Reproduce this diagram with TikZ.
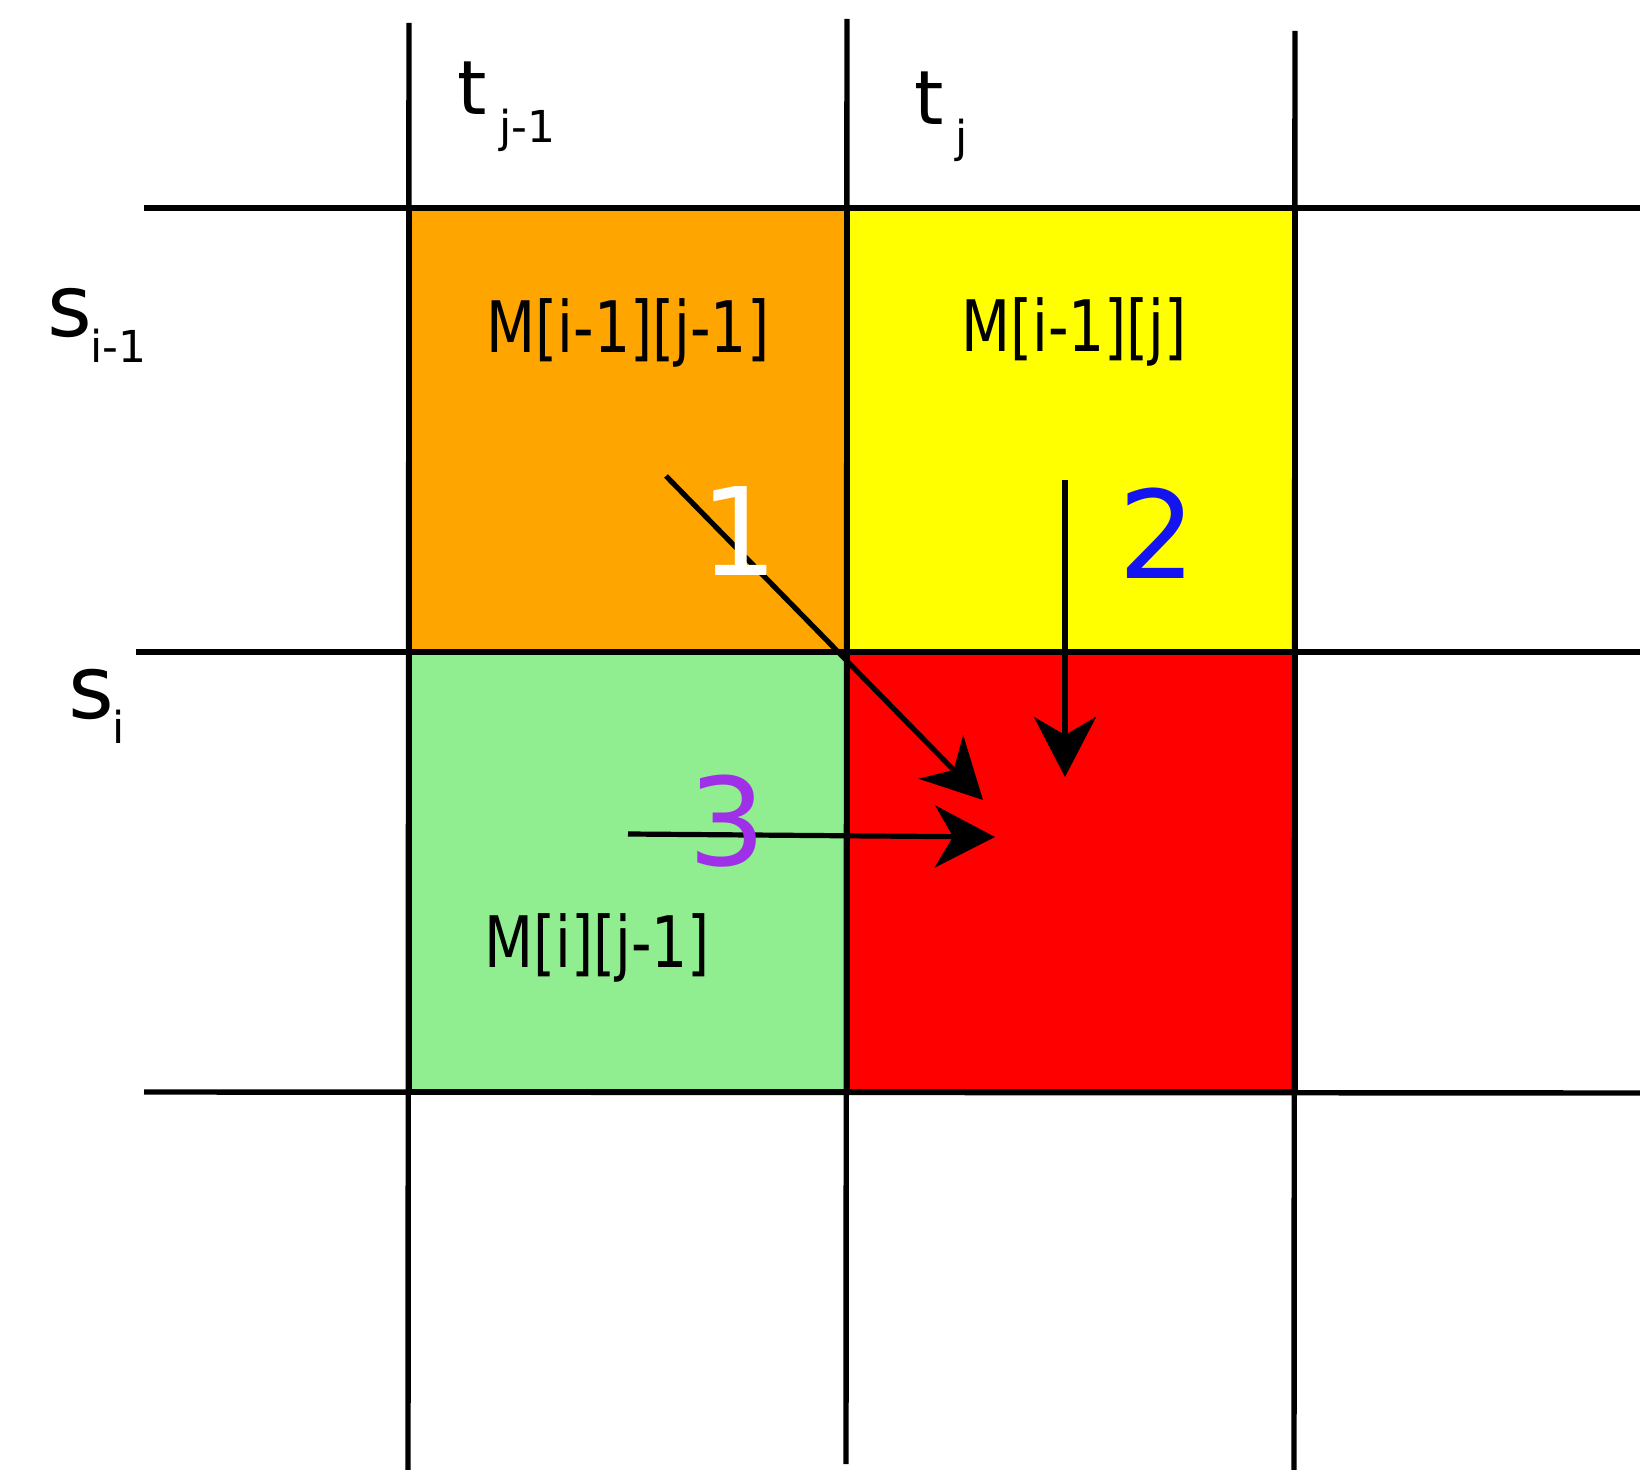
\documentclass[tikz,border=0pt]{standalone}
\usepackage{fontspec}
\usepackage{graphicx}
\setmainfont{DejaVu Sans}
\usetikzlibrary{arrows.meta}
\definecolor{cOrange}{HTML}{FFA500}
\definecolor{cYellow}{HTML}{FFFF00}
\definecolor{cGreen}{HTML}{90EE90}
\definecolor{cRed}{HTML}{FF0000}
\definecolor{cBlue}{HTML}{1414F0}
\definecolor{cPurple}{HTML}{A030E8}
\begin{document}
\begin{tikzpicture}[x=0.5pt,y=-0.5pt,
  gridline/.style={line width=2.7pt},
  cellbox/.style={draw=black, line width=3.2pt},
  celltext/.style={anchor=base, inner sep=0pt, font=\fontsize{35.5pt}{36pt}\selectfont},
  mainlbl/.style={anchor=base west, inner sep=0pt},
  sublbl/.style={anchor=base west, inner sep=0pt, font=\fontsize{22pt}{22pt}\selectfont},
  numlbl/.style={anchor=base, inner sep=0pt, font=\fontsize{61pt}{61pt}\selectfont},
  arrowline/.style={line width=2.6pt, -{Stealth[length=30pt,width=31pt,inset=9pt]}}]
\useasboundingbox (0,0) rectangle (1640,1470);
\fill[white] (0,0) rectangle (1640,1470);
% cells
\path[cellbox, fill=cOrange] (409,208) rectangle (847,652);
\path[cellbox, fill=cYellow] (847,208) rectangle (1295,652);
\path[cellbox, fill=cGreen] (409,652) rectangle (847,1092);
\path[cellbox, fill=cRed] (847,652) rectangle (1295,1092);
% grid lines
\draw[gridline] (409,23) -- (408,1470);
\draw[gridline] (847,19) -- (846,1464);
\draw[gridline] (1295,31) -- (1294,1470);
\draw[gridline] (144,208) -- (1640,208);
\draw[gridline] (136,652) -- (1640,652);
\draw[gridline] (144,1092) -- (1640,1093);
% header labels
\node[mainlbl, font=\fontsize{37.5pt}{38pt}\selectfont] (tj1) at (457,115) {t};
\node[sublbl] (tj1s) at (499,143) {j-1};
\node[mainlbl, font=\fontsize{37.5pt}{38pt}\selectfont] (tj) at (914,125) {t};
\node[sublbl] (tjs) at (955,153) {j};
\node[mainlbl, font=\fontsize{43pt}{43pt}\selectfont] (si1) at (47,337) {s};
\node[sublbl] (si1s) at (90,363) {i-1};
\node[mainlbl, font=\fontsize{44pt}{44pt}\selectfont] (si) at (68,719) {s};
\node[sublbl] (sis) at (112,744) {i};
% cell texts
\node[celltext] (m00) at (628,353) {\scalebox{0.8}[1]{M[i-1][j-1]}};
\node[celltext] (m01) at (1074,352) {\scalebox{0.8}[1]{M[i-1][j]}};
\node[celltext] (m10) at (597,967) {\scalebox{0.8}[1]{M[i][j-1]}};
% arrows
\coordinate (a1s) at (666,476);
\coordinate (a1e) at (983,800);
\coordinate (a2s) at (1065,480);
\coordinate (a2e) at (1065,777);
\coordinate (a3s) at (628,834);
\coordinate (a3e) at (995,837);
\draw[arrowline] (a1s) -- (a1e);
\draw[arrowline] (a2s) -- (a2e);
\draw[arrowline] (a3s) -- (a3e);
% numbers
\node[numlbl, text=white] (n1) at (739,576) {1};
\node[numlbl, text=cBlue] (n2) at (1157,579) {2};
\node[numlbl, text=cPurple] (n3) at (727,866) {3};
\end{tikzpicture}
\end{document}
